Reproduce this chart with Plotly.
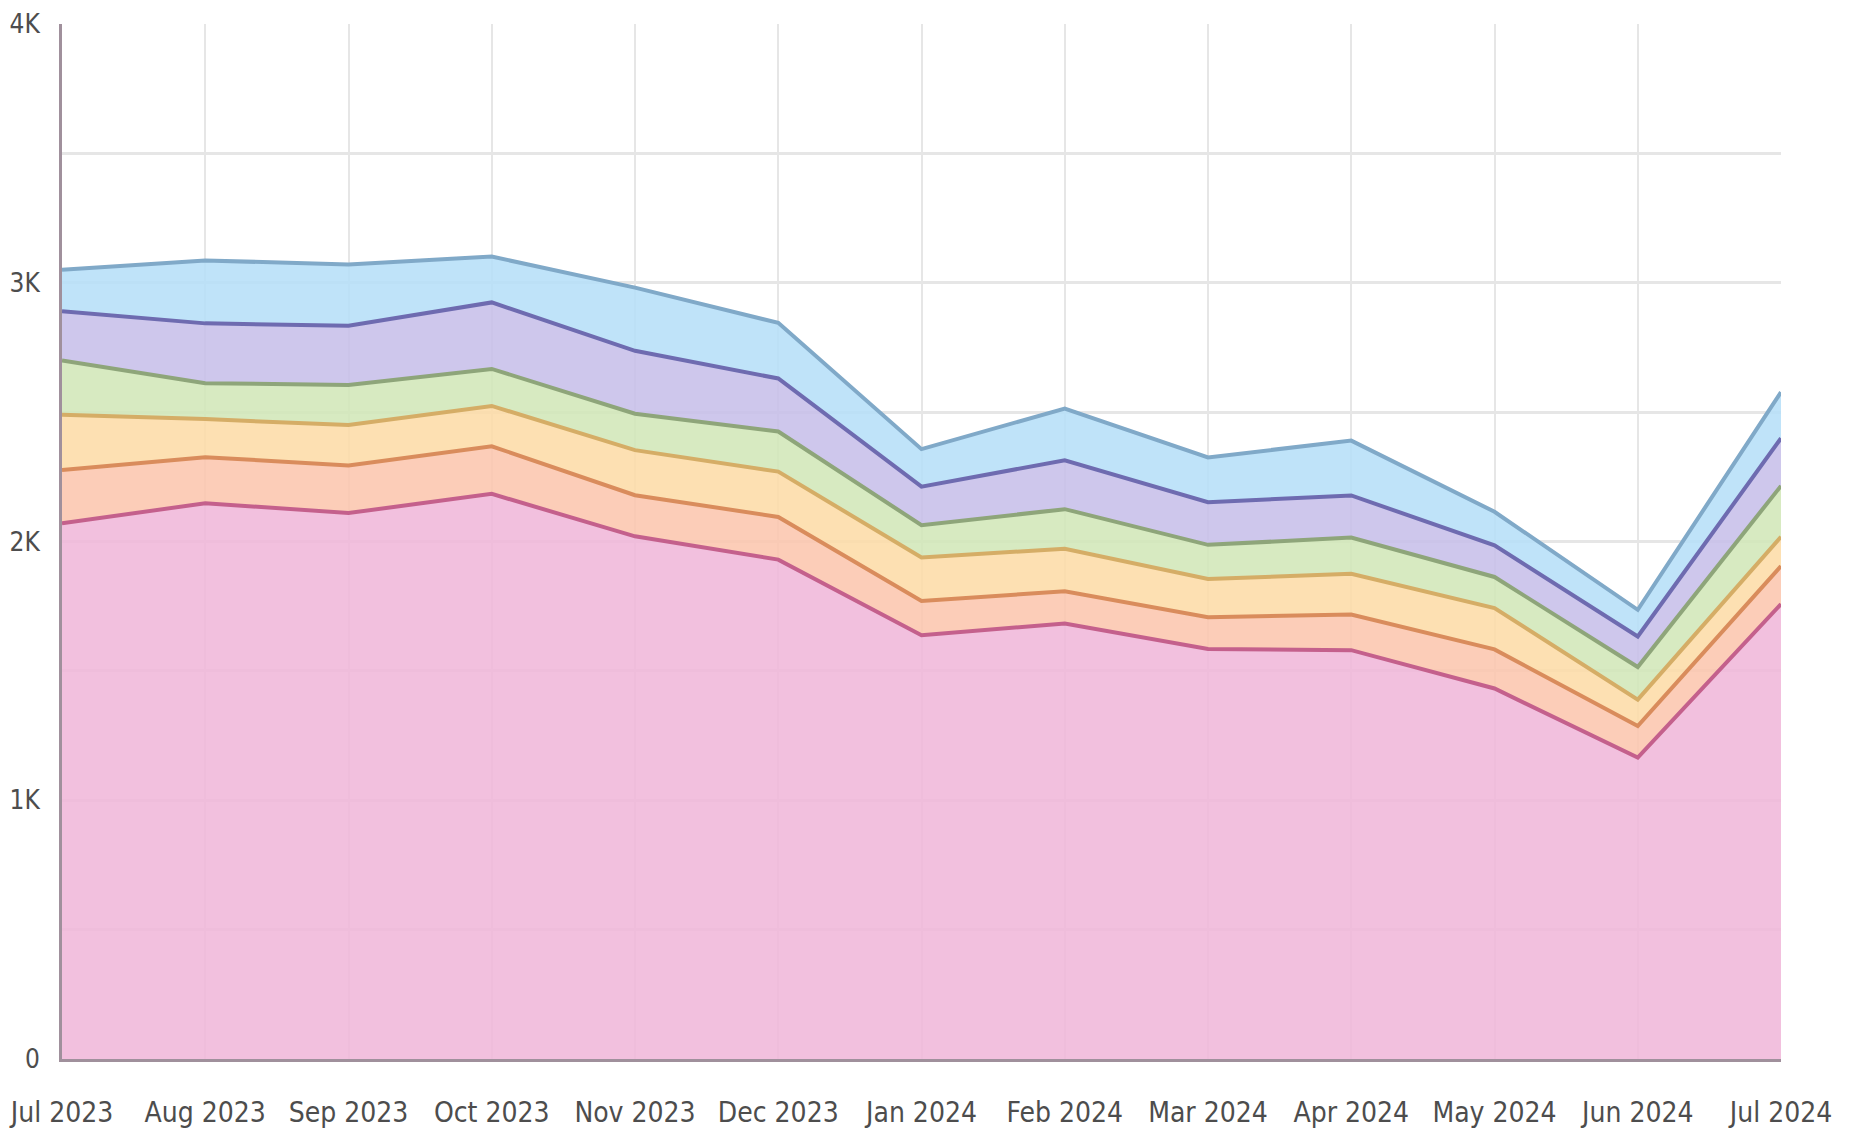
import plotly.graph_objects as go

months = ["Jul 2023", "Aug 2023", "Sep 2023", "Oct 2023", "Nov 2023", "Dec 2023",
          "Jan 2024", "Feb 2024", "Mar 2024", "Apr 2024", "May 2024", "Jun 2024", "Jul 2024"]

pink = [2070, 2148, 2110, 2184, 2020, 1930, 1638, 1683, 1585, 1580, 1432, 1165, 1758]
peach = [206, 178, 184, 184, 159, 165, 132, 125, 122, 138, 151, 122, 147]
yellow = [214, 147, 156, 156, 174, 175, 168, 164, 148, 157, 160, 102, 113]
green = [210, 139, 155, 143, 141, 155, 125, 153, 132, 140, 120, 126, 197]
purple = [190, 231, 229, 257, 243, 205, 149, 189, 165, 163, 122, 118, 184]
blue = [160, 243, 237, 177, 244, 215, 145, 200, 173, 212, 130, 103, 178]

y_tick_vals = [0, 500, 1000, 1500, 2000, 2500, 3000, 3500, 4000]
y_tick_text = ["0", "", "1K", "", "2K", "", "3K", "", "4K"]

series = [
    ("pink", pink, "rgba(240,181,216,0.85)", "#c4608c"),
    ("peach", peach, "rgba(252,196,172,0.85)", "#d98c5c"),
    ("yellow", yellow, "rgba(253,219,165,0.85)", "#d5ad66"),
    ("green", green, "rgba(208,230,182,0.85)", "#8ea57a"),
    ("purple", purple, "rgba(198,189,233,0.85)", "#6e6bb0"),
    ("blue", blue, "rgba(180,222,248,0.85)", "#80a9c8"),
]

fig = go.Figure()
for name, vals, fillc, linec in series:
    fig.add_trace(go.Scatter(
        x=months, y=vals, name=name, mode="lines", stackgroup="one",
        fillcolor=fillc, line=dict(color=linec, width=4),
    ))

font_fam = "Liberation Sans Narrow, DejaVu Sans Condensed, Roboto, Arial, sans-serif"

fig.update_layout(
    width=1849, height=1123,
    paper_bgcolor="white", plot_bgcolor="white",
    margin=dict(l=54, r=76, t=16, b=72),
    showlegend=False,
    font=dict(family=font_fam, size=26, color="#4d4d4d"),
)
fig.update_xaxes(
    type="category", range=[0, 12], showgrid=True, gridcolor="#e6e6e6", gridwidth=2,
    showline=True, linecolor="#a0909c", linewidth=3, ticks="", automargin=False,
    ticklabelstandoff=26, tickfont=dict(size=28, color="#4d4d4d"),
)
fig.update_yaxes(
    range=[0, 4000], tickvals=y_tick_vals, ticktext=y_tick_text,
    showgrid=True, gridcolor="#e6e6e6", gridwidth=3, automargin=False,
    showline=True, linecolor="#a0909c", linewidth=3, ticks="", zeroline=False,
    ticklabelstandoff=14, tickfont=dict(size=26, color="#4d4d4d"),
)

fig.write_html("out.html")
